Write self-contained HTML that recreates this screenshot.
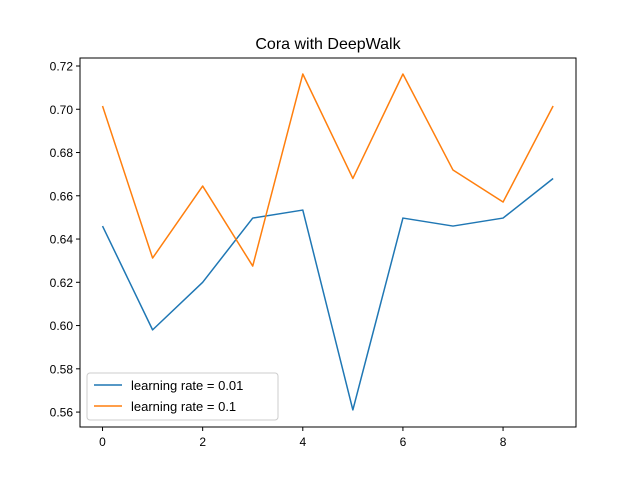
<!DOCTYPE html>
<html><head><meta charset="utf-8"><style>
body{margin:0;background:#fff}
svg{font-family:"Liberation Sans","DejaVu Sans",sans-serif}
</style></head><body>
<svg id="chart" width="640" height="480" xmlns="http://www.w3.org/2000/svg">
<rect width="640" height="480" fill="#fff"/>
<text x="328" y="49" font-size="16" text-anchor="middle">Cora with DeepWalk</text>
<g id="grid"></g>
<rect x="80" y="58" width="496" height="369" fill="none" stroke="#000" stroke-width="1"/>
<g id="series"></g>
<g>
<rect x="87" y="373" width="191" height="47" rx="3" fill="#fff" fill-opacity="0.8" stroke="#ccc"/>
<line x1="94" y1="385" x2="122" y2="385" stroke="#1f77b4" stroke-width="1.5"/>
<text x="131" y="390" font-size="13">learning rate = 0.01</text>
<line x1="94" y1="406" x2="122" y2="406" stroke="#ff7f0e" stroke-width="1.5"/>
<text x="131" y="411" font-size="13">learning rate = 0.1</text>
</g>
</svg>
<script>
const xValues=[0,1,2,3,4,5,6,7,8,9];
const seriesLr001=[0.646,0.598,0.620,0.6497,0.6534,0.561,0.6497,0.646,0.6497,0.668];
const seriesLr01=[0.7015,0.6312,0.6645,0.6275,0.7163,0.668,0.7163,0.6719,0.6571,0.7015];
const xTicks=[0,2,4,6,8];
const yTicks=[0.56,0.58,0.60,0.62,0.64,0.66,0.68,0.70,0.72];
const NS="http://www.w3.org/2000/svg";
const X0=80,X1=576,Y0=58,Y1=427,xMin=-0.45,xMax=9.457,yMin=0.5531,yMax=0.7237;
const sx=v=>X0+(v-xMin)/(xMax-xMin)*(X1-X0);
const sy=v=>Y1-(v-yMin)/(yMax-yMin)*(Y1-Y0);
const g=document.getElementById('grid');
function mk(t,a,p){const e=document.createElementNS(NS,t);for(const k in a)e.setAttribute(k,a[k]);p.appendChild(e);return e;}
xTicks.forEach(t=>{
const x=sx(t);
const l=mk('line',{x1:x,y1:Y1,x2:x,y2:Y1+4,stroke:'#000'},g);


const tx=mk('text',{x:x,y:Y1+19,'font-size':12,'text-anchor':'middle'},g);
tx.textContent=t;


});
yTicks.forEach(t=>{
const y=sy(t);
const l=mk('line',{x1:X0-4,y1:y,x2:X0,y2:y,stroke:'#000'},g);


const tx=mk('text',{x:X0-7,y:y+4.5,'font-size':12,'text-anchor':'end'},g);
tx.textContent=t.toFixed(2);


});
const s=document.getElementById('series');
[[seriesLr001,'#1f77b4','line-lr-0.01'],[seriesLr01,'#ff7f0e','line-lr-0.1']].forEach(([d,c,n])=>{
const pts=d.map((v,i)=>sx(xValues[i])+','+sy(v)).join(' ');
const p=mk('polyline',{points:pts,fill:'none',stroke:c,'stroke-width':1.5,'stroke-linejoin':'round'},s);


});
</script>
</body></html>
